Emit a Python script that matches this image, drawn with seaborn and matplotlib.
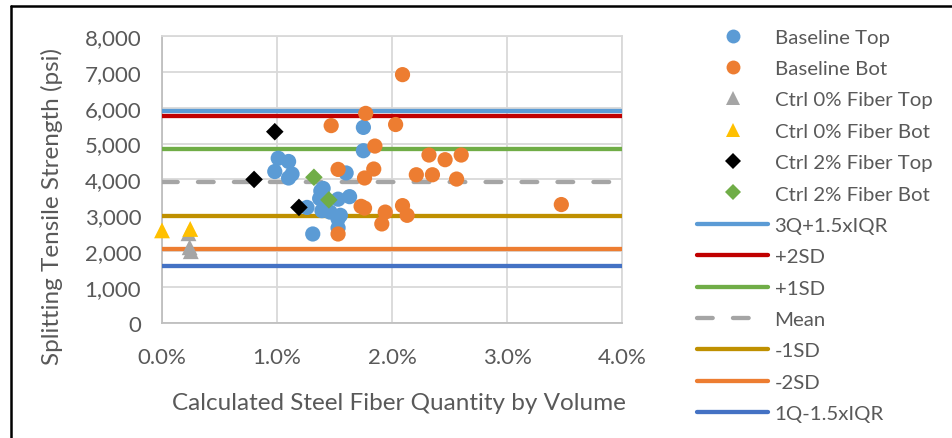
import matplotlib
matplotlib.use("Agg")
import matplotlib.pyplot as plt
from matplotlib.lines import Line2D
from matplotlib.ticker import FuncFormatter, MultipleLocator
import pandas as pd
import seaborn as sns

# ------------------------------
# Data
# ------------------------------
base_top_x = [1.01, 1.10, 0.98, 1.13, 1.10, 1.60, 1.75, 1.75, 1.40, 1.37,
              1.26, 1.39, 1.46, 1.53, 1.63, 1.53, 1.53, 1.31, 1.38, 1.55]
base_top_y = [4590, 4500, 4220, 4150, 4040, 4180, 5450, 4800, 3750, 3470,
              3220, 3130, 3090, 3450, 3520, 2900, 2650, 2480, 3680, 3000]

base_bot_x = [2.09, 1.77, 2.03, 1.85, 2.32, 2.46, 2.60, 1.84, 1.76, 2.21,
              2.35, 2.56, 1.73, 1.76, 1.94, 2.09, 2.13, 1.91, 1.47, 1.53,
              1.53, 3.47]
base_bot_y = [6920, 5840, 5530, 4930, 4680, 4550, 4680, 4290, 4040, 4130,
              4130, 4010, 3250, 3200, 3090, 3270, 3000, 2760, 5500, 4280,
              2480, 3300]

ctrl0_top_x = [0.23, 0.24, 0.25]
ctrl0_top_y = [2500, 2110, 2000]

ctrl0_bot_x = [0.00, 0.245]
ctrl0_bot_y = [2580, 2620]

ctrl2_top_x = [0.98, 0.80, 1.19]
ctrl2_top_y = [5330, 4000, 3220]

ctrl2_bot_x = [1.32, 1.45]
ctrl2_bot_y = [4060, 3430]

ref_names = ["3Q+1.5xIQR", "+2SD", "+1SD", "Mean", "-1SD", "-2SD", "1Q-1.5xIQR"]
ref_values = [5910, 5780, 4850, 3920, 2990, 2060, 1580]

# ------------------------------
# Styling
# ------------------------------
sns.set_style("white")
plt.rcParams["font.family"] = ["Lato", "DejaVu Sans"]
text_col = "#595959"

series = [
    ("Baseline Top", base_top_x, base_top_y, "#5B9BD5", "o", 120),
    ("Baseline Bot", base_bot_x, base_bot_y, "#ED7D31", "o", 120),
    ("Ctrl 0% Fiber Top", ctrl0_top_x, ctrl0_top_y, "#A5A5A5", "^", 130),
    ("Ctrl 0% Fiber Bot", ctrl0_bot_x, ctrl0_bot_y, "#FFC000", "^", 130),
    ("Ctrl 2% Fiber Top", ctrl2_top_x, ctrl2_top_y, "#000000", "D", 80),
    ("Ctrl 2% Fiber Bot", ctrl2_bot_x, ctrl2_bot_y, "#70AD47", "D", 80),
]
ref_colors = ["#5B9BD5", "#C00000", "#70AD47", "#A5A5A5", "#BF9000", "#ED7D31", "#4472C4"]
mean_dash = (0, (3.65, 4.7))
ref_styles = ["-", "-", "-", mean_dash, "-", "-", "-"]

fig = plt.figure(figsize=(9.53, 4.39), dpi=100)
ax = fig.add_axes([0.170, 0.262, 0.483, 0.654])

handles = []
for name, xs, ys, col, mk, sz in series:
    df = pd.DataFrame({"x": [v / 100 for v in xs], "y": ys})
    sns.scatterplot(data=df, x="x", y="y", ax=ax, color=col, marker=mk, s=sz,
                    edgecolor="none", zorder=4, legend=False, clip_on=False)
    handles.append(Line2D([], [], linestyle="none", marker=mk, color=col,
                          markersize=10 if mk != "D" else 8, markeredgewidth=0))

for name, val, col, ls in zip(ref_names, ref_values, ref_colors, ref_styles):
    ax.axhline(val, color=col, lw=3.1, ls=ls, zorder=3,
               solid_capstyle="round", dash_capstyle="round")
    handles.append(Line2D([], [], color=col, lw=3.1, ls=ls,
                          solid_capstyle="round", dash_capstyle="round"))

ax.set_xlim(0, 0.04)
ax.set_ylim(0, 8000)
ax.xaxis.set_major_locator(MultipleLocator(0.01))
ax.yaxis.set_major_locator(MultipleLocator(1000))
ax.xaxis.set_major_formatter(FuncFormatter(lambda v, p: f"{v*100:.1f}%"))
ax.yaxis.set_major_formatter(FuncFormatter(lambda v, p: f"{v:,.0f}"))
ax.grid(True, color="#D9D9D9", lw=1.3, zorder=0)
ax.set_axisbelow(True)
for s in ax.spines.values():
    s.set_color("#D9D9D9")
    s.set_linewidth(1.3)
ax.spines["left"].set_color("#BFBFBF")
ax.spines["bottom"].set_color("#BFBFBF")
ax.tick_params(axis="both", length=0, labelsize=16, colors=text_col)
ax.tick_params(axis="x", pad=17)
ax.tick_params(axis="y", pad=15)

ax.set_xlabel("Calculated Steel Fiber Quantity by Volume", fontsize=17.5,
              color=text_col)
ax.set_ylabel("Splitting Tensile Strength (psi)", fontsize=17.5,
              color=text_col)
ax.xaxis.set_label_coords(0.514, -0.240)
ax.yaxis.set_label_coords(-0.215, 0.408)

labels = [s[0] for s in series] + ref_names
leg = fig.legend(handles, labels, loc="upper left", bbox_to_anchor=(0.7314, 0.933),
                 frameon=False, fontsize=14.7, handlelength=3.5, handletextpad=0.3,
                 labelspacing=0.69, borderaxespad=0, borderpad=0)
for t in leg.get_texts():
    t.set_color(text_col)

# frame edges of the cropped chart (top and left)
fig.add_artist(Line2D([11 / 953, 1], [1 - 7 / 439, 1 - 7 / 439],
                      transform=fig.transFigure, color="black", lw=1.8))
fig.add_artist(Line2D([11 / 953, 11 / 953], [0, 1 - 7 / 439],
                      transform=fig.transFigure, color="black", lw=1.8))

fig.savefig("out.png", dpi=100)
